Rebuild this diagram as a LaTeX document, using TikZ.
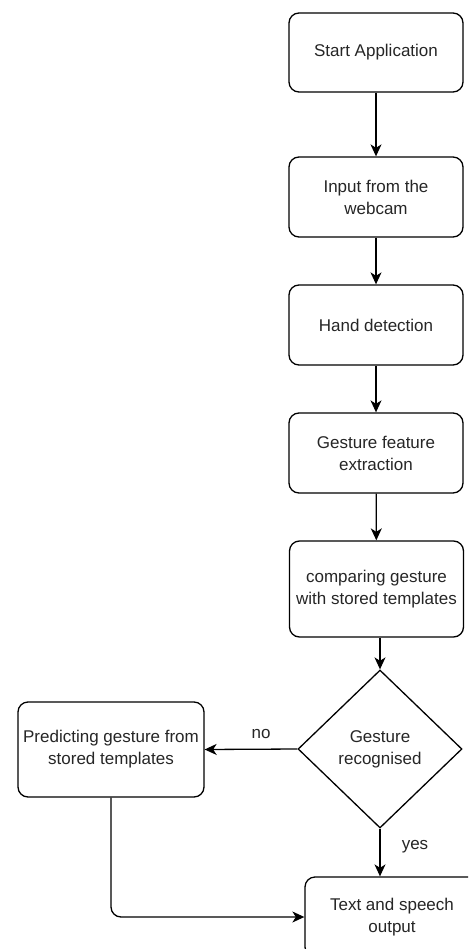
\documentclass[tikz,border=0pt]{standalone}
\usepackage{fontspec}
\setmainfont{Liberation Sans}
\usetikzlibrary{shapes.geometric,arrows.meta}

\tikzset{
  stepbox/.style={draw, rounded corners=10pt, line width=1.3pt, align=center,
    minimum width=174pt, minimum height=80pt, inner sep=2pt, text=black!85},
  decbox/.style={draw, diamond, line width=1.3pt, align=center, inner sep=0pt,
    minimum width=164pt, minimum height=158pt, text=black!85},
  flow/.style={-{Stealth[length=12pt,width=11pt,inset=3.5pt]}, line width=1.3pt},
  lbl/.style={text=black!85, inner sep=1pt}
}

\begin{document}
\begin{tikzpicture}[x=1pt, y=-1pt, font=\fontsize{17}{22}\selectfont]
  \useasboundingbox (0,0) rectangle (468,949);
  \fill[white] (0,0) rectangle (468,949);
  \clip (0,0) rectangle (468,949);

    % main column
    \node [stepbox, minimum height=79pt](start) at (376,52.5) {Start Application};
    \node [stepbox](webcam) at (376,197) {Input from the\\webcam};
    \node [stepbox](hand) at (376,325) {Hand detection};
    \node [stepbox](feature) at (376,453) {Gesture feature\\extraction};
    \node [stepbox, minimum height=96pt](compare) at (376.5,589) {comparing gesture\\with stored templates};
    \node [decbox](recog) at (380,749) {Gesture\\recognised};

    % side branch and output
    \node [stepbox, minimum width=186pt, minimum height=95pt](predict) at (111,749.5) {Predicting gesture from\\stored templates};
    \node [stepbox](output) at (392,917) {Text and speech\\output};

    \node [lbl](no) at (261,734) {no};
    \node [lbl](yes) at (415,847) {yes};

    \draw [flow] (start) -- (webcam);
    \draw [flow] (webcam) -- (hand);
    \draw [flow] (hand) -- (feature);
    \draw [flow] (feature) -- (compare);
    \draw [flow] (compare.south -| recog.north) -- (recog.north);
    \draw [flow] (recog.west) -- (predict.east);
    \draw [flow] (recog.south) -- (recog.south |- output.north);
    \draw [flow, rounded corners=10pt] (predict.south) |- (output.west);
\end{tikzpicture}
\end{document}
